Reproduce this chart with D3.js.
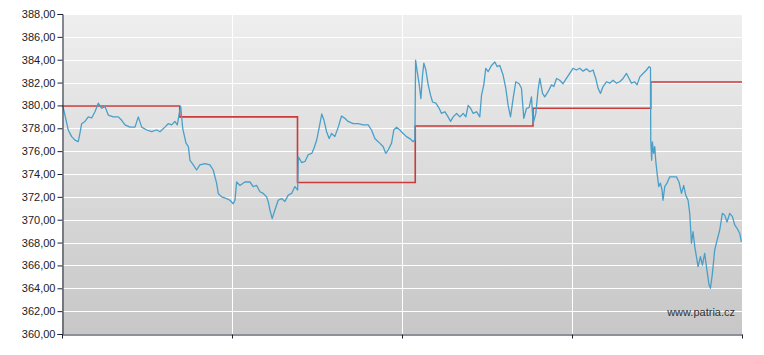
<!DOCTYPE html>
<html>
<head>
<meta charset="utf-8">
<script src="https://cdn.jsdelivr.net/npm/d3@7"></script>
<style>
  body { margin: 0; background: #fff; }
  svg { display: block; }
  .ylab { font-family: "Liberation Sans", Arial, sans-serif; font-size: 11px; fill: #222; }
</style>
</head>
<body>
<div id="chart"></div>
<script>
// x is time in trading days from the left edge, y is the price
const intraday = [
  [0.006, 380.0], [0.025, 379.16], [0.053, 377.85], [0.082, 377.27], [0.110, 376.97],
  [0.138, 376.83], [0.153, 377.6], [0.167, 378.4], [0.195, 378.6], [0.223, 379.0],
  [0.252, 378.9], [0.280, 379.45], [0.308, 380.2], [0.337, 379.75], [0.365, 379.9],
  [0.393, 379.16], [0.435, 379.0], [0.478, 379.0], [0.507, 378.7], [0.535, 378.3],
  [0.577, 378.1], [0.620, 378.1], [0.648, 379.0], [0.677, 378.1], [0.719, 377.85],
  [0.761, 377.7], [0.804, 377.85], [0.832, 377.7], [0.874, 378.1], [0.902, 378.4],
  [0.931, 378.3], [0.959, 378.6], [0.979, 378.3], [0.996, 379.3], [1.008, 379.9],
  [1.025, 378.0], [1.053, 376.7], [1.073, 376.4], [1.087, 375.2], [1.115, 374.8],
  [1.143, 374.35], [1.171, 374.8], [1.214, 374.9], [1.256, 374.8], [1.284, 374.35],
  [1.313, 373.2], [1.327, 372.3], [1.356, 372.0], [1.398, 371.85], [1.426, 371.7],
  [1.454, 371.4], [1.469, 371.7], [1.483, 373.3], [1.511, 373.0], [1.553, 373.3],
  [1.596, 373.3], [1.624, 372.9], [1.653, 373.0], [1.681, 372.45], [1.709, 372.3],
  [1.738, 372.0], [1.751, 371.6], [1.766, 370.85], [1.785, 370.1], [1.808, 370.85],
  [1.836, 371.7], [1.865, 371.85], [1.893, 371.6], [1.921, 372.15], [1.950, 372.3],
  [1.978, 372.9], [2.001, 372.6], [2.007, 375.5], [2.036, 375.0], [2.064, 375.1],
  [2.092, 375.7], [2.121, 375.8], [2.140, 376.25], [2.163, 376.97], [2.185, 378.1],
  [2.206, 379.25], [2.225, 378.7], [2.247, 377.7], [2.269, 377.1], [2.290, 377.55],
  [2.317, 377.27], [2.346, 378.1], [2.374, 379.07], [2.402, 378.87], [2.430, 378.6],
  [2.473, 378.4], [2.515, 378.4], [2.558, 378.3], [2.600, 378.3], [2.629, 377.85],
  [2.657, 377.1], [2.685, 376.83], [2.727, 376.4], [2.750, 375.8], [2.770, 376.1],
  [2.799, 376.7], [2.818, 377.85], [2.841, 378.1], [2.869, 377.85], [2.897, 377.55],
  [2.926, 377.27], [2.954, 377.1], [2.982, 376.83], [2.997, 377.0], [3.003, 383.97],
  [3.017, 382.95], [3.034, 381.8], [3.048, 380.6], [3.062, 382.66], [3.073, 383.7],
  [3.090, 383.1], [3.110, 381.8], [3.130, 380.9], [3.147, 380.3], [3.175, 380.2],
  [3.203, 379.75], [3.223, 379.3], [3.251, 379.45], [3.279, 379.0], [3.300, 378.6],
  [3.322, 379.0], [3.351, 379.3], [3.379, 379.0], [3.407, 379.3], [3.430, 379.0],
  [3.449, 380.0], [3.470, 379.75], [3.492, 379.3], [3.520, 379.45], [3.548, 379.0],
  [3.563, 380.9], [3.582, 381.8], [3.599, 383.25], [3.619, 382.95], [3.648, 383.5],
  [3.676, 383.8], [3.695, 383.4], [3.718, 383.5], [3.746, 382.66], [3.769, 381.5],
  [3.789, 380.0], [3.809, 379.0], [3.831, 380.6], [3.854, 382.07], [3.882, 381.9],
  [3.902, 381.5], [3.922, 378.87], [3.945, 379.75], [3.967, 379.8], [3.987, 380.75],
  [4.001, 378.4], [4.024, 379.3], [4.043, 381.35], [4.058, 382.36], [4.081, 381.05],
  [4.100, 380.75], [4.128, 381.2], [4.157, 381.8], [4.177, 381.65], [4.200, 382.36],
  [4.227, 382.2], [4.255, 381.9], [4.284, 382.36], [4.312, 382.8], [4.340, 383.25],
  [4.369, 383.1], [4.397, 383.25], [4.425, 383.0], [4.454, 383.2], [4.482, 382.95],
  [4.510, 383.1], [4.533, 382.36], [4.553, 381.5], [4.573, 381.05], [4.595, 381.65],
  [4.624, 382.07], [4.652, 381.95], [4.680, 382.2], [4.709, 381.95], [4.737, 382.07],
  [4.765, 382.36], [4.794, 382.8], [4.816, 382.36], [4.836, 381.95], [4.864, 382.07],
  [4.884, 381.8], [4.907, 382.5], [4.935, 382.8], [4.964, 383.1], [4.986, 383.4],
  [4.998, 383.3], [5.000, 376.97], [5.008, 375.2], [5.014, 376.8], [5.025, 375.8],
  [5.034, 376.4], [5.042, 375.2], [5.054, 374.05], [5.068, 372.9], [5.082, 373.2],
  [5.096, 372.6], [5.104, 371.7], [5.119, 372.9], [5.138, 373.2], [5.161, 373.75],
  [5.189, 373.75], [5.218, 373.75], [5.240, 373.3], [5.261, 372.3], [5.280, 373.0],
  [5.297, 372.15], [5.317, 371.7], [5.331, 370.56], [5.346, 367.94], [5.359, 368.95],
  [5.374, 367.64], [5.388, 366.76], [5.402, 365.9], [5.422, 366.76], [5.439, 366.03],
  [5.458, 367.06], [5.473, 365.9], [5.495, 364.3], [5.507, 364.0], [5.524, 365.3],
  [5.543, 367.35], [5.563, 368.2], [5.586, 369.1], [5.608, 370.56], [5.628, 370.4],
  [5.648, 369.8], [5.671, 370.56], [5.694, 370.27], [5.713, 369.54], [5.733, 369.25],
  [5.756, 368.8], [5.770, 368.07]
];

// previous close for each trading day (red step line)
const prevClose = [379.95, 379.0, 373.25, 378.2, 379.75, 382.05];

const yTicks = [360, 362, 364, 366, 368, 370, 372, 374, 376, 378, 380, 382, 384, 386, 388];
const xEnd = 5.775;
const xTickCount = 4;

const width = 764, height = 355;
const margin = {top: 14, right: 22, bottom: 21, left: 62};

const svg = d3.select('#chart').append('svg')
    .attr('width', width)
    .attr('height', height);

const x = d3.scaleLinear()
    .domain([0, xEnd])
    .range([margin.left, width - margin.right]);

const y = d3.scaleLinear()
    .domain([360, 388])
    .range([height - margin.bottom, margin.top]);

// background gradient
const grad = svg.append('defs').append('linearGradient')
    .attr('id', 'bg')
    .attr('x1', 0).attr('y1', 0).attr('x2', 0).attr('y2', 1);
grad.append('stop').attr('offset', '0%').attr('stop-color', '#efefef');
grad.append('stop').attr('offset', '100%').attr('stop-color', '#c7c7c7');

svg.append('rect')
    .attr('x', x(0))
    .attr('y', y(388))
    .attr('width', x(xEnd) - x(0))
    .attr('height', y(360) - y(388))
    .attr('fill', 'url(#bg)');

const xTickVals = d3.range(xTickCount + 1).map(i => i * xEnd / xTickCount);

// grid
svg.append('g')
    .selectAll('line')
    .data(yTicks.slice(1))
    .enter()
    .append('line')
    .attr('x1', x(0)).attr('x2', x(xEnd))
    .attr('y1', d => Math.round(y(d)) + 0.5)
    .attr('y2', d => Math.round(y(d)) + 0.5)
    .attr('stroke', '#fff')
    .attr('stroke-width', 1);

svg.append('g')
    .selectAll('line')
    .data(xTickVals.slice(1, -1))
    .enter()
    .append('line')
    .attr('x1', d => Math.round(x(d)) + 0.5)
    .attr('x2', d => Math.round(x(d)) + 0.5)
    .attr('y1', y(388)).attr('y2', y(360))
    .attr('stroke', '#fff')
    .attr('stroke-width', 1);

// red step line (previous close)
const stepData = prevClose.map((v, i) => [i, v]);
stepData.push([xEnd, prevClose[prevClose.length - 1]]);

svg.append('path')
    .datum(stepData)
    .attr('fill', 'none')
    .attr('stroke', '#cc3a3a')
    .attr('stroke-width', 1.6)
    .attr('d', d3.line()
        .x(d => x(d[0]))
        .y(d => y(d[1]))
        .curve(d3.curveStepAfter));

// blue intraday line
svg.append('path')
    .datum(intraday)
    .attr('fill', 'none')
    .attr('stroke', '#4a9fc9')
    .attr('stroke-width', 1.3)
    .attr('stroke-linejoin', 'round')
    .attr('d', d3.line()
        .x(d => x(d[0]))
        .y(d => y(d[1])));

// axes
const fmt = d => d3.format('.2f')(d).replace('.', ',');

const yAxis = svg.append('g')
    .attr('transform', `translate(${x(0) + 0.5}, 0)`)
    .call(d3.axisLeft(y).tickValues(yTicks).tickFormat(fmt).tickSize(5).tickPadding(2));
yAxis.select('.domain').attr('stroke', '#1c2233');
yAxis.selectAll('.tick line').attr('stroke', '#1c2233');
yAxis.selectAll('.tick text')
    .attr('class', 'ylab')
    .attr('font-family', null)
    .attr('font-size', null)
    .attr('fill', null);

const xAxis = svg.append('g')
    .attr('transform', `translate(0, ${y(360) + 0.5})`)
    .call(d3.axisBottom(x).tickValues(xTickVals).tickFormat('').tickSize(4).tickSizeOuter(0));
xAxis.select('.domain').attr('stroke', '#1c2233');
xAxis.selectAll('.tick line').attr('stroke', '#1c2233');

// watermark
svg.append('text')
    .attr('x', x(xEnd) - 7)
    .attr('y', y(362) + 5)
    .attr('text-anchor', 'end')
    .attr('font-family', '"Liberation Sans", Arial, sans-serif')
    .attr('font-size', 11)
    .attr('fill', '#333')
    .text('www.patria.cz');
</script>
</body>
</html>
